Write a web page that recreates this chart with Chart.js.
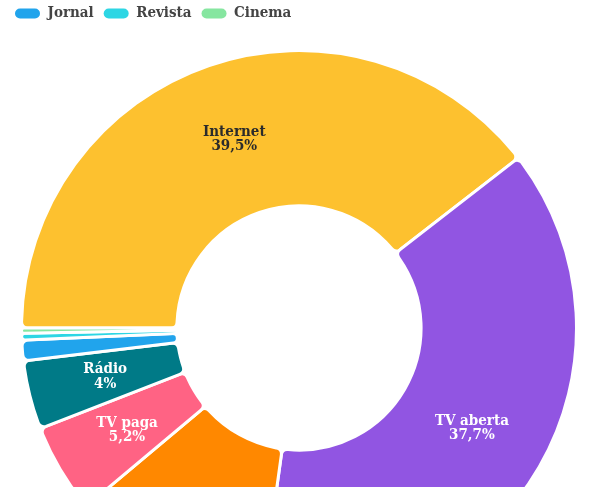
<!DOCTYPE html>
<html>
<head>
<meta charset="utf-8">
<script src="https://cdn.jsdelivr.net/npm/chart.js@4/dist/chart.umd.min.js"></script>
<style>
  html, body { margin: 0; padding: 0; background: #fff; overflow: hidden; width: 598px; height: 487px; }
  #wrap { position: absolute; left: 0; top: -29px; width: 598px; height: 636px; }
</style>
</head>
<body>
<div id="wrap"><canvas id="c" width="598" height="636"></canvas></div>
<script>
const categories = ["Internet", "TV aberta", "Mídia exterior", "TV paga", "Rádio", "Jornal", "Revista", "Cinema"];
const shares = [39.5, 37.7, 11.7, 5.2, 4, 1.2, 0.4, 0.3];
const colors = ["#FDC12F", "#9155E2", "#FF8800", "#FF6384", "#007A87", "#21A4EC", "#2DD6E4", "#86E6A0"];
const labelColors = ["#2b2b2b", "#ffffff", "#ffffff", "#ffffff", "#ffffff", "#ffffff", "#ffffff", "#ffffff"];
const minLabelShare = 3;

const FONT = "'DejaVu Serif Condensed', 'DejaVu Serif', serif";

const legendMargin = {
  id: 'legendMargin',
  beforeInit(chart) {
    const origFit = chart.legend.fit;
    chart.legend.fit = function () {
      origFit.bind(chart.legend)();
      this.height += 18;
    };
  }
};

const arcLabels = {
  id: 'arcLabels',
  afterDatasetsDraw(chart) {
    const ctx = chart.ctx;
    const meta = chart.getDatasetMeta(0);
    ctx.save();
    ctx.textAlign = 'center';
    ctx.textBaseline = 'middle';
    ctx.font = "bold 15px " + FONT;
    meta.data.forEach((arc, i) => {
      if (shares[i] < minLabelShare) return;
      const p = arc.tooltipPosition();
      ctx.fillStyle = labelColors[i];
      const val = String(shares[i]).replace('.', ',') + '%';
      ctx.fillText(categories[i], p.x, p.y - 7);
      ctx.fillText(val, p.x, p.y + 7.5);
    });
    ctx.restore();
  }
};

new Chart(document.getElementById('c'), {
  type: 'doughnut',
  data: {
    labels: categories,
    datasets: [{
      data: shares,
      backgroundColor: colors,
      borderColor: '#ffffff',
      borderWidth: 3,
      borderRadius: 6
    }]
  },
  options: {
    responsive: false,
    devicePixelRatio: 1,
    animation: false,
    rotation: -90,
    cutout: '44%',
    layout: { padding: { left: 5, right: 5, top: 0, bottom: 0 } },
    plugins: {
      tooltip: { enabled: false },
      legend: {
        position: 'top',
        align: 'start',
        labels: {
          color: '#444444',
          font: { family: FONT, size: 15, weight: 'bold' },
          boxWidth: 25,
          boxHeight: 10,
          useBorderRadius: true,
          borderRadius: 5,
          padding: 10,
          generateLabels(chart) {
            const items = Chart.overrides.doughnut.plugins.legend.labels.generateLabels(chart);
            items.forEach(it => { it.lineWidth = 0; it.strokeStyle = 'rgba(0,0,0,0)'; });
            return items;
          }
        }
      }
    }
  },
  plugins: [legendMargin, arcLabels]
});
</script>
</body>
</html>
